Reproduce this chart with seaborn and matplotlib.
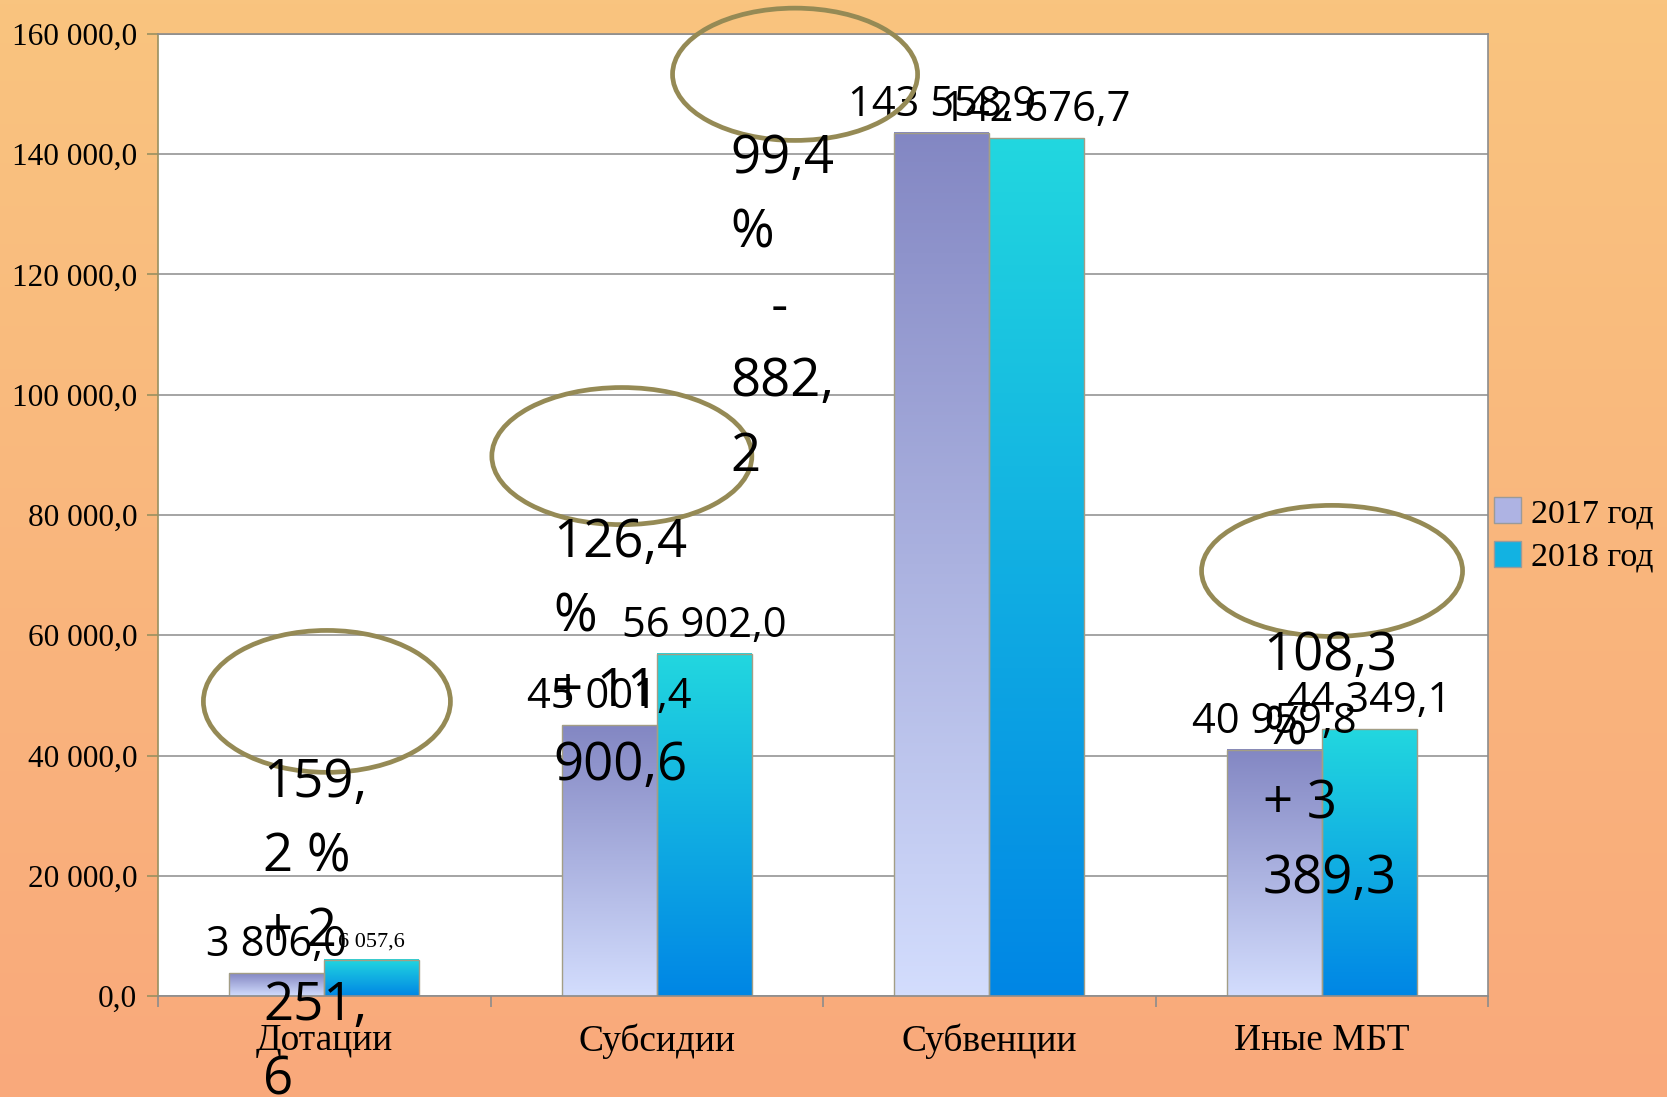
import numpy as np
import pandas as pd
import matplotlib
matplotlib.use("Agg")
import matplotlib.pyplot as plt
import seaborn as sns
from matplotlib.colors import LinearSegmentedColormap
from matplotlib.patches import Ellipse, Patch

# ---- data ----
categories = ["Дотации", "Субсидии", "Субвенции", "Иные МБТ"]
years = ["2017 год", "2018 год"]
values_2017 = [3806.0, 45001.4, 143558.9, 40959.8]
values_2018 = [6057.6, 56902.0, 142676.7, 44349.1]
notes = ["159,\n2 %\n+ 2\n251,\n6",
         "126,4\n%\n+ 11\n900,6",
         "99,4\n%\n   -\n882,\n2",
         "108,3\n%\n+ 3\n389,3"]
y_ticks = [0, 20000, 40000, 60000, 80000, 100000, 120000, 140000, 160000]

df = pd.DataFrame({
    "cat": categories * 2,
    "value": values_2017 + values_2018,
    "year": [years[0]] * 4 + [years[1]] * 4,
})


def fmt(v):
    return f"{v:,.1f}".replace(",", " ").replace(".", ",")


plt.rcParams["font.family"] = ["Liberation Serif", "DejaVu Sans"]

W, H = 1667, 1097
fig = plt.figure(figsize=(W / 100, H / 100), dpi=100)

# orange gradient background
grad = np.linspace(0, 1, 256).reshape(-1, 1)
bg = fig.add_axes([0, 0, 1, 1], zorder=-10)
bg.imshow(grad, aspect="auto", extent=[0, 1, 0, 1],
          cmap=LinearSegmentedColormap.from_list("bg", ["#F9C47F", "#F9A97B"]))
bg.axis("off")

ax = fig.add_axes([158 / W, 1 - 996 / H, (1488 - 158) / W, (996 - 34) / H])
ax.set_facecolor("white")

sns.barplot(data=df, x="cat", y="value", hue="year", order=categories,
            hue_order=years, palette=["#A9AEDF", "#12B2E2"], saturation=1,
            width=0.57, gap=0, edgecolor="#A39E85", linewidth=1.0,
            legend=False, ax=ax)

# per-bar vertical gradients
grad_cols = [("#8387C3", "#D3DDFD"), ("#22D7DF", "#0086E5")]
for i, cont in enumerate(ax.containers):
    cmap = LinearSegmentedColormap.from_list(f"g{i}", grad_cols[i])
    for bar in cont:
        x0, w, h = bar.get_x(), bar.get_width(), bar.get_height()
        ax.imshow(grad, cmap=cmap, aspect="auto", extent=[x0, x0 + w, 0, h], zorder=1.5)
        bar.set_facecolor("none")
        bar.set_zorder(2)

ax.set_xlim(-0.5, 3.5)
ax.set_ylim(0, 160000)

# grid / spines / ticks
ax.set_axisbelow(True)
ax.yaxis.grid(True, color="#8C8C8C", lw=1.1)
ax.xaxis.grid(False)
for s in ["top", "right", "bottom"]:
    ax.spines[s].set_color("#8C8C8C")
    ax.spines[s].set_linewidth(1.2)
ax.spines["left"].set_color("#9A9060")
ax.spines["left"].set_linewidth(1.2)

ax.set_yticks(y_ticks)
ax.set_yticklabels([fmt(v) for v in y_ticks])
ax.tick_params(axis="y", length=8, width=1.2, color="#9A9060", pad=7, labelsize=22.5)
ax.set_xticks(range(4))
ax.set_xticklabels(categories)
ax.tick_params(axis="x", length=0, pad=20, labelsize=27)
ax.set_xticks([-0.5, 0.5, 1.5, 2.5, 3.5], minor=True)
ax.tick_params(axis="x", which="minor", length=8, width=1.2, color="#8C8C8C")
ax.set_xlabel("")
ax.set_ylabel("")

# value labels
for cont, vals in zip(ax.containers, [values_2017, values_2018]):
    for bar, v in zip(cont, vals):
        xc = bar.get_x() + bar.get_width() / 2
        if v == 6057.6:
            ax.annotate(fmt(v), (xc, v), xytext=(0, 6), textcoords="offset points",
                        ha="center", va="bottom", fontsize=16,
                        family="Liberation Serif", zorder=6)
        else:
            ax.annotate(fmt(v), (xc, v), xytext=(0, 5), textcoords="offset points",
                        ha="center", va="bottom", fontsize=30,
                        family="Open Sans", zorder=6)

# ellipses and growth notes
ellipses = [(0.008, 49000, 0.743, 23600),
            (0.895, 89800, 0.782, 22800),
            (1.416, 153300, 0.737, 22000),
            (3.031, 70700, 0.785, 21800)]
for cx, cy, ew, eh in ellipses:
    ax.add_patch(Ellipse((cx, cy), ew, eh, fill=False, ec="#958A55", lw=3.4,
                         clip_on=False, zorder=7))

note_pos = [(-0.184, 39900), (0.688, 79800), (1.220, 143700), (2.823, 61000)]
for (nx, ny), txt in zip(note_pos, notes):
    ax.text(nx, ny, txt, ha="left", va="top", fontsize=38, family="Open Sans",
            linespacing=1.52, zorder=8, clip_on=False)

# legend
handles = [Patch(facecolor="#AEB3E3", edgecolor="#9A9A9A"),
           Patch(facecolor="#12B2E2", edgecolor="#9A9A9A")]
fig.legend(handles, years, loc="center left", bbox_to_anchor=(1494 / W, 1 - 535 / H),
           frameon=False, fontsize=24.5, handlelength=0.8, handleheight=0.8,
           handletextpad=0.3, labelspacing=0.35, borderpad=0, borderaxespad=0)

fig.savefig("out.png", dpi=100)
